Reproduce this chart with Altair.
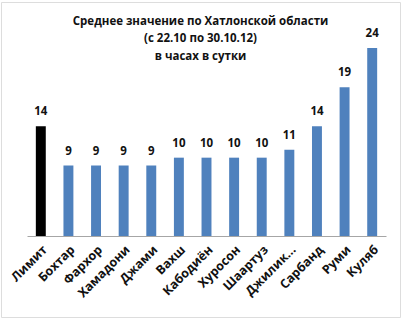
import altair as alt
import pandas as pd

categories = ["Лимит", "Бохтар", "Фархор", "Хамадони", "Джами", "Вахш", "Кабодиён",
              "Хуросон", "Шаартуз", "Джилик...", "Сарбанд", "Руми", "Куляб"]
values = [14, 9, 9, 9, 9, 10, 10, 10, 10, 11, 14, 19, 24]
groups = ["limit"] + ["region"] * 12
title_lines = ["Среднее значение по Хатлонской области", "(с 22.10 по 30.10.12)", "в часах в сутки"]

df = pd.DataFrame({"cat": categories, "val": values, "grp": groups})

FONT = "Open Sans"

x = alt.X("cat:N", sort=categories, title=None,
          scale=alt.Scale(range=[26, 385], paddingInner=0.64, paddingOuter=0.32),
          axis=alt.Axis(labelAngle=-45, labelFont=FONT, labelFontWeight="bold",
                        labelFontSize=12.5, labelColor="#111", ticks=False,
                        domainColor="#a6a6a6", domainWidth=1, offset=-81,
                        labelPadding=7, grid=False))
y = alt.Y("val:Q", title=None, axis=None,
          scale=alt.Scale(domain=[0, 24], range=[234, 46], nice=False, zero=True))

bars = alt.Chart(df).mark_bar().encode(
    x=x, y=y,
    color=alt.Color("grp:N", scale=alt.Scale(domain=["limit", "region"],
                                             range=["#000000", "#4f81bd"]), legend=None),
)
labels = alt.Chart(df).mark_text(font=FONT, fontWeight="bold", fontSize=11.5,
                                 baseline="middle", dy=-14, color="#111").encode(
    x=x, y=y, text="val:Q")

chart = alt.layer(bars, labels).properties(
    width=399, height=315,
    autosize=alt.AutoSizeParams(type="none"),
    padding={"left": 1, "top": 2, "right": 3, "bottom": 3},
    title=alt.TitleParams(text=title_lines, font=FONT, fontSize=11.5, fontWeight="bold",
                          color="#111", anchor="middle", frame="group", baseline="top",
                          lineHeight=17.5, offset=0, dy=60),
).configure_view(stroke="#000000", strokeWidth=2).configure(background="white")

chart.save("out.html", embed_options={"renderer": "svg", "actions": False})
